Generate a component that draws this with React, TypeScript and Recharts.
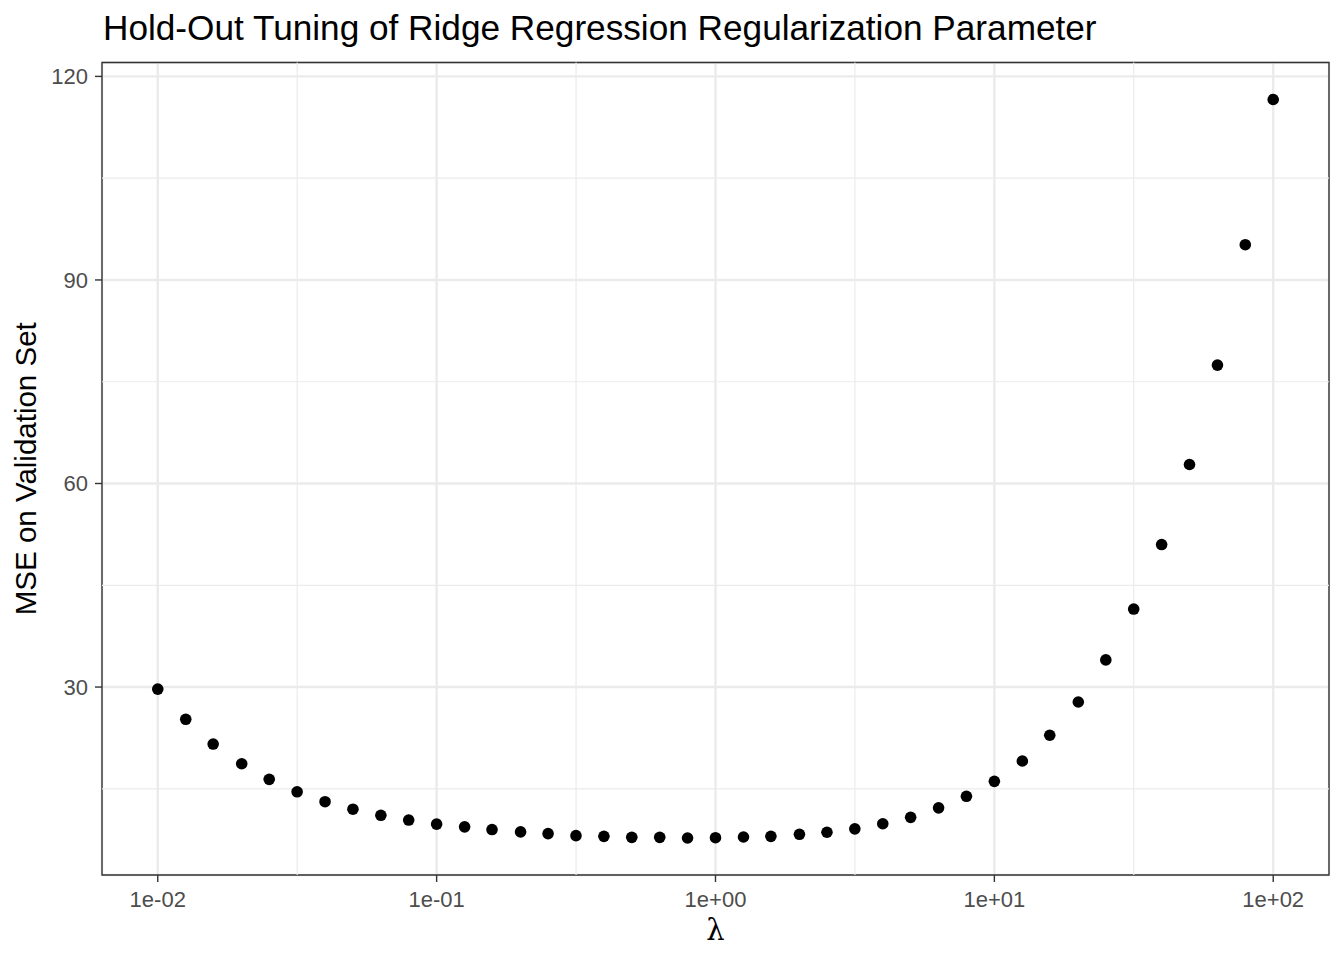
import {
  CartesianGrid,
  Label,
  ReferenceArea,
  ReferenceLine,
  Scatter,
  ScatterChart,
  XAxis,
  YAxis,
} from "recharts";

// Hold-out validation MSE over a log grid of ridge penalties (10 per decade).
const lambdas = [
  0.01, 0.0126, 0.0158, 0.02, 0.0251, 0.0316, 0.0398, 0.0501, 0.0631, 0.0794,
  0.1, 0.126, 0.158, 0.2, 0.251, 0.316, 0.398, 0.501, 0.631, 0.794,
  1, 1.26, 1.58, 2, 2.51, 3.16, 3.98, 5.01, 6.31, 7.94,
  10, 12.6, 15.8, 20, 25.1, 31.6, 39.8, 50.1, 63.1, 79.4,
  100,
];
const mse = [
  29.7, 25.25, 21.6, 18.7, 16.4, 14.56, 13.1, 12.0, 11.1, 10.4,
  9.8, 9.4, 9.0, 8.65, 8.4, 8.1, 8.0, 7.85, 7.85, 7.75,
  7.8, 7.9, 8.0, 8.3, 8.6, 9.1, 9.85, 10.8, 12.2, 13.9,
  16.1, 19.1, 22.9, 27.8, 34.0, 41.5, 51.0, 62.8, 77.45, 95.2,
  116.6,
];

const xTicks = [0.01, 0.1, 1, 10, 100];
const xMinor = [0.03162, 0.3162, 3.162, 31.62];
const yTicks = [30, 60, 90, 120];
const yMinor = [15, 45, 75, 105];
const xDomain = [0.00631, 158.5];
const yDomain = [2.3, 122.05];

const data = lambdas.map((lambda, i) => ({ lambda, mse: mse[i] }));

const FONT = "'Liberation Sans', Arial, Helvetica, sans-serif";
const GRID = "#EBEBEB";
const INK = "#333333";

function sciLabel(v: number) {
  const e = Math.round(Math.log10(v));
  return "1e" + (e < 0 ? "-" : "+") + String(Math.abs(e)).padStart(2, "0");
}

const Dot = (props: any) => <circle cx={props.cx} cy={props.cy} r={5.8} fill="#000" />;

export default function App() {
  return (
    <div style={{ position: "absolute", left: 0, top: 0, width: 1344, height: 960, background: "#fff" }}>
      <div
        style={{
          position: "absolute",
          left: 103,
          top: 8,
          fontFamily: FONT,
          fontSize: 35.2,
          lineHeight: "40px",
          color: "#000",
          whiteSpace: "nowrap",
        }}
      >
        Hold-Out Tuning of Ridge Regression Regularization Parameter
      </div>
      <ScatterChart
        width={1344}
        height={960}
        margin={{ top: 62.5, right: 15, bottom: 0, left: 0 }}
        style={{ fontFamily: FONT }}
      >
        <CartesianGrid stroke={GRID} strokeWidth={2.4} />
        {xMinor.map((v) => (
          <ReferenceLine key={"x" + v} x={v} stroke={GRID} strokeWidth={1.2} />
        ))}
        {yMinor.map((v) => (
          <ReferenceLine key={"y" + v} y={v} stroke={GRID} strokeWidth={1.2} />
        ))}
        <XAxis
          dataKey="lambda"
          type="number"
          scale="log"
          domain={xDomain}
          allowDataOverflow
          ticks={xTicks}
          tickFormatter={sciLabel}
          height={85}
          axisLine={false}
          tickSize={7}
          tickMargin={9}
          tickLine={{ stroke: INK, strokeWidth: 1.4 }}
          tick={{ fill: "#4D4D4D", fontSize: 22 }}
        >
          <Label
            content={(p: any) => (
              <text
                x={p.viewBox.x + p.viewBox.width / 2}
                y={940}
                textAnchor="middle"
                fontFamily="'DejaVu Serif', 'Liberation Serif', serif"
                fontSize={29}
                fill="#000"
              >
                λ
              </text>
            )}
          />
        </XAxis>
        <YAxis
          dataKey="mse"
          type="number"
          domain={yDomain}
          allowDataOverflow
          ticks={yTicks}
          width={102}
          axisLine={false}
          tickSize={7}
          tickMargin={7}
          tickLine={{ stroke: INK, strokeWidth: 1.4 }}
          tick={{ fill: "#4D4D4D", fontSize: 22 }}
        >
          <Label
            content={(p: any) => {
              const cy = p.viewBox.y + p.viewBox.height / 2;
              return (
                <text
                  x={36}
                  y={cy}
                  transform={`rotate(-90, 36, ${cy})`}
                  textAnchor="middle"
                  fontFamily={FONT}
                  fontSize={29.5}
                  fill="#000"
                >
                  MSE on Validation Set
                </text>
              );
            }}
          />
        </YAxis>
        <ReferenceArea
          x1={xDomain[0]}
          x2={xDomain[1]}
          y1={yDomain[0]}
          y2={yDomain[1]}
          fill="none"
          stroke={INK}
          strokeWidth={1.4}
          strokeOpacity={1}
          ifOverflow="visible"
        />
        <Scatter data={data} shape={Dot} isAnimationActive={false} />
      </ScatterChart>
    </div>
  );
}
